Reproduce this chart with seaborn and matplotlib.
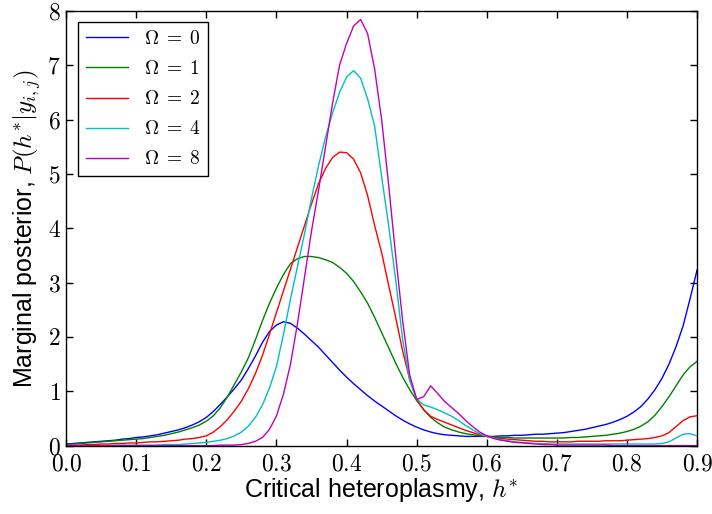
import seaborn as sns
import pandas as pd
import matplotlib.pyplot as plt
import numpy as np
from matplotlib.ticker import FuncFormatter, MultipleLocator

# critical heteroplasmy grid, step 0.01
h_star = np.round(np.linspace(0.0, 0.9, 91), 2)

omega_labels = [r'$\Omega\;=\;0$', r'$\Omega\;=\;1$', r'$\Omega\;=\;2$', r'$\Omega\;=\;4$', r'$\Omega\;=\;8$']
line_colors = ['#0000ff', '#008000', '#ff0000', '#00bfbf', '#bf00bf']

post_omega0 = [0.03, 0.04, 0.05, 0.06, 0.07, 0.08, 0.09, 0.10, 0.12, 0.13,
               0.15, 0.16, 0.18, 0.20, 0.23, 0.26, 0.29, 0.33, 0.38, 0.44,
               0.52, 0.63, 0.76, 0.90, 1.05, 1.21, 1.42, 1.65, 1.90, 2.10,
               2.22, 2.28, 2.25, 2.16, 2.05, 1.93, 1.81, 1.67, 1.53, 1.39,
               1.26, 1.14, 1.03, 0.92, 0.82, 0.73, 0.64, 0.55, 0.47, 0.40,
               0.34, 0.29, 0.25, 0.22, 0.20, 0.19, 0.18, 0.17, 0.17, 0.17,
               0.17, 0.17, 0.18, 0.18, 0.19, 0.19, 0.20, 0.21, 0.21, 0.22,
               0.23, 0.24, 0.26, 0.28, 0.30, 0.33, 0.36, 0.39, 0.43, 0.48,
               0.54, 0.62, 0.72, 0.86, 1.03, 1.24, 1.50, 1.82, 2.20, 2.70,
               3.23]
post_omega1 = [0.02, 0.03, 0.04, 0.05, 0.06, 0.07, 0.08, 0.09, 0.10, 0.11,
               0.12, 0.13, 0.15, 0.17, 0.19, 0.22, 0.25, 0.29, 0.33, 0.38,
               0.45, 0.55, 0.70, 0.90, 1.13, 1.36, 1.62, 1.95, 2.30, 2.62,
               2.90, 3.15, 3.35, 3.44, 3.48, 3.48, 3.46, 3.42, 3.37, 3.28,
               3.17, 3.02, 2.83, 2.62, 2.36, 2.08, 1.80, 1.52, 1.26, 1.03,
               0.83, 0.66, 0.52, 0.42, 0.34, 0.29, 0.25, 0.22, 0.20, 0.18,
               0.17, 0.16, 0.15, 0.15, 0.14, 0.14, 0.14, 0.14, 0.14, 0.14,
               0.14, 0.14, 0.15, 0.15, 0.16, 0.17, 0.18, 0.19, 0.21, 0.23,
               0.26, 0.30, 0.36, 0.44, 0.56, 0.72, 0.90, 1.10, 1.30, 1.45,
               1.55]
post_omega2 = [0.00, 0.01, 0.01, 0.02, 0.02, 0.03, 0.03, 0.04, 0.04, 0.05,
               0.05, 0.06, 0.07, 0.07, 0.08, 0.09, 0.10, 0.12, 0.13, 0.15,
               0.18, 0.25, 0.35, 0.48, 0.64, 0.82, 1.05, 1.33, 1.66, 2.05,
               2.45, 2.85, 3.25, 3.65, 4.05, 4.45, 4.82, 5.10, 5.30, 5.40,
               5.39, 5.27, 5.02, 4.60, 4.05, 3.55, 2.95, 2.36, 1.74, 1.22,
               0.85, 0.66, 0.54, 0.48, 0.43, 0.38, 0.33, 0.28, 0.24, 0.20,
               0.17, 0.15, 0.13, 0.12, 0.11, 0.10, 0.09, 0.08, 0.08, 0.07,
               0.07, 0.07, 0.07, 0.08, 0.08, 0.08, 0.08, 0.09, 0.09, 0.09,
               0.10, 0.11, 0.12, 0.13, 0.15, 0.18, 0.24, 0.35, 0.46, 0.53,
               0.55]
post_omega4 = [0.00, 0.00, 0.00, 0.00, 0.00, 0.00, 0.00, 0.01, 0.01, 0.01,
               0.01, 0.01, 0.01, 0.01, 0.02, 0.02, 0.02, 0.03, 0.04, 0.05,
               0.06, 0.08, 0.10, 0.13, 0.18, 0.25, 0.36, 0.52, 0.75, 1.06,
               1.46, 2.05, 2.70, 3.30, 3.90, 4.55, 5.15, 5.68, 6.12, 6.50,
               6.78, 6.90, 6.76, 6.38, 5.88, 4.95, 4.05, 3.05, 1.95, 1.20,
               0.86, 0.75, 0.71, 0.66, 0.60, 0.54, 0.46, 0.37, 0.29, 0.22,
               0.17, 0.14, 0.11, 0.09, 0.07, 0.06, 0.05, 0.04, 0.04, 0.03,
               0.03, 0.03, 0.03, 0.03, 0.03, 0.03, 0.03, 0.03, 0.03, 0.03,
               0.03, 0.03, 0.03, 0.03, 0.03, 0.04, 0.07, 0.14, 0.21, 0.22,
               0.18]
post_omega8 = [0.00, 0.00, 0.00, 0.00, 0.00, 0.00, 0.00, 0.00, 0.00, 0.00,
               0.00, 0.00, 0.00, 0.00, 0.00, 0.00, 0.00, 0.00, 0.00, 0.00,
               0.00, 0.00, 0.01, 0.01, 0.01, 0.02, 0.04, 0.08, 0.15, 0.30,
               0.55, 0.95, 1.50, 2.25, 3.10, 3.95, 4.70, 5.50, 6.30, 7.00,
               7.40, 7.72, 7.84, 7.58, 6.93, 6.00, 4.80, 3.50, 2.30, 1.30,
               0.85, 0.90, 1.10, 0.96, 0.81, 0.70, 0.59, 0.46, 0.35, 0.25,
               0.18, 0.13, 0.10, 0.08, 0.06, 0.05, 0.04, 0.03, 0.02, 0.02,
               0.01, 0.01, 0.01, 0.01, 0.01, 0.01, 0.01, 0.01, 0.00, 0.00,
               0.00, 0.00, 0.00, 0.00, 0.00, 0.00, 0.00, 0.00, 0.00, 0.00,
               0.00]

series = [post_omega0, post_omega1, post_omega2, post_omega4, post_omega8]
frames = [pd.DataFrame({'h': h_star, 'post': vals, 'omega': lab})
          for lab, vals in zip(omega_labels, series)]
data = pd.concat(frames, ignore_index=True)

plt.rcParams.update({'mathtext.fontset': 'cm',
                     'font.family': ['Liberation Sans', 'DejaVu Sans'],
                     'xtick.direction': 'in', 'ytick.direction': 'in',
                     'xtick.top': True, 'ytick.right': True,
                     'xtick.major.size': 5, 'ytick.major.size': 5})

fig = plt.figure(figsize=(7.12, 5.14), dpi=100)
ax = fig.add_axes([0.093, 0.133, 0.886, 0.846])

sns.lineplot(data=data, x='h', y='post', hue='omega', hue_order=omega_labels,
             palette=line_colors, linewidth=1.0, ax=ax)

ax.set_xlim(0, 0.9)
ax.set_ylim(0, 8)
ax.xaxis.set_major_locator(MultipleLocator(0.1))
ax.yaxis.set_major_locator(MultipleLocator(1))
ax.xaxis.set_major_formatter(FuncFormatter(lambda v, p: f'${v:.1f}$'))
ax.yaxis.set_major_formatter(FuncFormatter(lambda v, p: f'${v:.0f}$'))
ax.tick_params(labelsize=17, width=1, colors='black')
ax.tick_params(axis='x', pad=6)
ax.tick_params(axis='y', pad=4)

ax.set_xlabel(r'Critical heteroplasmy, $h^{*}$', fontsize=18, labelpad=0)
ax.set_ylabel(r'Marginal posterior, $P(h^{*}|y_{i,j})$', fontsize=18, labelpad=3)

for sp in ax.spines.values():
    sp.set_color('black')
    sp.set_linewidth(1.0)

sns.move_legend(ax, 'upper left', title=None, frameon=True, fancybox=False,
                edgecolor='black', framealpha=1, fontsize=14, handlelength=2.2,
                labelspacing=0.62, borderaxespad=0.6)
ax.get_legend().get_frame().set_linewidth(1.0)

fig.savefig('out.png', dpi=100)
